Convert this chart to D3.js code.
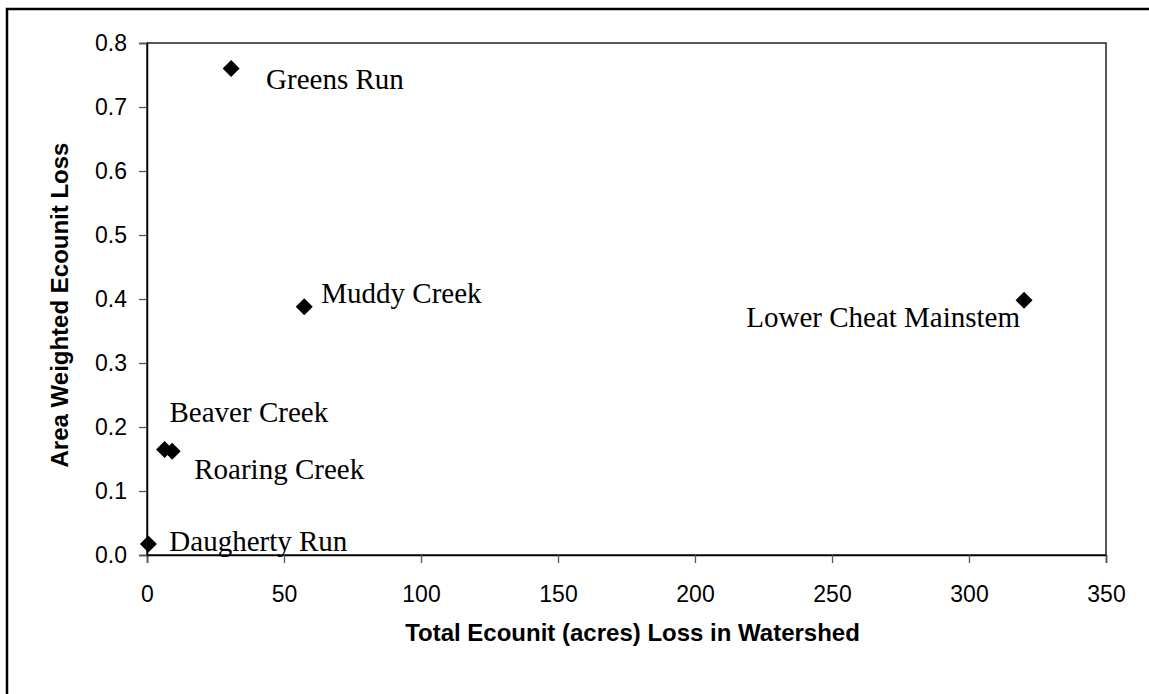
<!DOCTYPE html>
<html lang="en">

<head>
    <meta charset="UTF-8">
    <title>Area Weighted Ecounit Loss vs Total Ecounit Loss</title>
    <script src="https://cdn.jsdelivr.net/npm/d3@7"></script>
    <style>
        body { margin: 0; background: #fff; }
        svg { display: block; }
    </style>
</head>

<body>

    <div id="chart"></div>

    <script>
        // Watersheds
        const watersheds = ["Greens Run", "Muddy Creek", "Lower Cheat Mainstem", "Beaver Creek", "Roaring Creek", "Daugherty Run"];
        const totalLoss = [30.7, 57.4, 320.1, 6.4, 9.2, 0.5];
        const weightedLoss = [0.760, 0.388, 0.398, 0.165, 0.162, 0.017];

        const xTicks = [0, 50, 100, 150, 200, 250, 300, 350];
        const yTicks = [0.0, 0.1, 0.2, 0.3, 0.4, 0.5, 0.6, 0.7, 0.8];

        // label placement relative to each point (pixels)
        const labelDx = [35, 17, -4, 5, 22, 21];
        const labelDy = [20, -4, 27, -27, 28, 7];
        const labelAnchor = ["start", "start", "end", "start", "start", "start"];

        const W = 1149, H = 694;
        const margin = { top: 43, right: 43, bottom: 139, left: 147 };
        const width = W - margin.left - margin.right,
            height = H - margin.top - margin.bottom;

        const svg = d3.select("#chart")
            .append("svg")
            .attr("width", W)
            .attr("height", H);

        // outer chart frame (runs off the right and bottom edge)
        svg.append("rect")
            .attr("x", 7)
            .attr("y", 9)
            .attr("width", W + 20)
            .attr("height", H + 20)
            .attr("fill", "none")
            .attr("stroke", "#000")
            .attr("stroke-width", 2.5);

        const g = svg.append("g")
            .attr("transform", `translate(${margin.left},${margin.top})`);

        const x = d3.scaleLinear().domain([0, 350]).range([0, width]);
        const y = d3.scaleLinear().domain([0, 0.8]).range([height, 0]);

        // plot frame
        g.append("rect")
            .attr("width", width)
            .attr("height", height)
            .attr("fill", "none")
            .attr("stroke", "#222")
            .attr("stroke-width", 1.5);

        // X axis
        const xAxis = g.append("g")
            .attr("transform", `translate(0,${height})`)
            .call(d3.axisBottom(x).tickValues(xTicks).tickSize(8).tickPadding(23).tickFormat(d3.format("d")));
        xAxis.select(".domain").attr("stroke", "#000").attr("stroke-width", 1.5);
        xAxis.selectAll(".tick line").attr("stroke", "#555").attr("stroke-width", 1.3);
        xAxis.selectAll(".tick text")
            .attr("font-family", "'Liberation Sans', Arial, sans-serif")
            .attr("font-size", 23)
            .attr("fill", "#000");

        // Y axis
        const yAxis = g.append("g")
            .call(d3.axisLeft(y).tickValues(yTicks).tickSize(8).tickPadding(12).tickFormat(d3.format(".1f")));
        yAxis.select(".domain").attr("stroke", "#000").attr("stroke-width", 1.5);
        yAxis.selectAll(".tick line").attr("stroke", "#555").attr("stroke-width", 1.3);
        yAxis.selectAll(".tick text")
            .attr("font-family", "'Liberation Sans', Arial, sans-serif")
            .attr("font-size", 23)
            .attr("fill", "#000");

        // Axis titles
        svg.append("text")
            .attr("x", margin.left + width / 2 + 6)
            .attr("y", 641)
            .attr("text-anchor", "middle")
            .attr("font-family", "'Liberation Sans', Arial, sans-serif")
            .attr("font-weight", "bold")
            .attr("font-size", 24)
            .text("Total Ecounit (acres) Loss in Watershed");

        svg.append("text")
            .attr("transform", `translate(68,${margin.top + height / 2 + 6}) rotate(-90)`)
            .attr("text-anchor", "middle")
            .attr("font-family", "'Liberation Sans', Arial, sans-serif")
            .attr("font-weight", "bold")
            .attr("font-size", 24)
            .text("Area Weighted Ecounit Loss");

        // Points
        const points = watersheds.map((name, i) => ({
            name: name,
            total: totalLoss[i],
            weighted: weightedLoss[i],
            dx: labelDx[i],
            dy: labelDy[i],
            anchor: labelAnchor[i]
        }));

        const r = 8.5;
        const diamond = `M0,${-r}L${r},0L0,${r}L${-r},0Z`;

        g.selectAll("path.pt")
            .data(points)
            .enter()
            .append("path")
            .attr("class", "pt")
            .attr("d", diamond)
            .attr("transform", d => `translate(${x(d.total)},${y(d.weighted)})`)
            .attr("fill", "#000");

        g.selectAll("text.lbl")
            .data(points)
            .enter()
            .append("text")
            .attr("class", "lbl")
            .attr("x", d => x(d.total) + d.dx)
            .attr("y", d => y(d.weighted) + d.dy)
            .attr("text-anchor", d => d.anchor)
            .attr("font-family", "'Liberation Serif', 'Times New Roman', serif")
            .attr("font-size", 29)
            .attr("fill", "#000")
            .text(d => d.name);
    </script>

</body>

</html>
